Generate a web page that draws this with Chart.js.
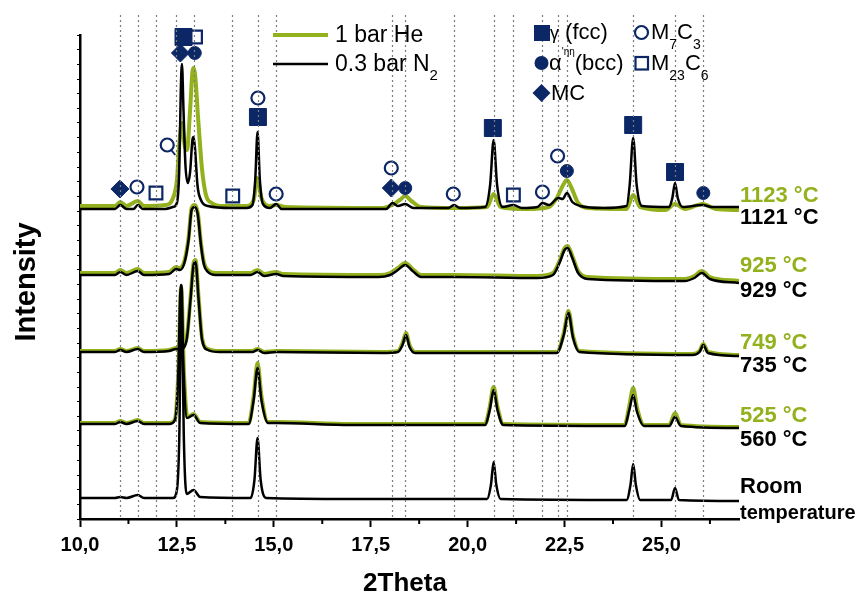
<!DOCTYPE html>
<html>
<head>
<meta charset="utf-8">
<script src="https://cdn.jsdelivr.net/npm/chart.js@4/dist/chart.umd.min.js"></script>
<style>
  html, body { margin: 0; padding: 0; background: #fff; }
</style>
</head>
<body>
<canvas id="xrd" width="861" height="598"></canvas>
<script>
const GREEN = '#93b11d';
const NAVY = '#0c2766';
const FONT = '"Liberation Sans", Arial, sans-serif';

// reference reflections (dotted lines), 2theta
const refLines = [11.04, 11.49, 11.97, 12.48, 12.93, 13.92, 14.58, 15.06, 18.06, 18.39,
  19.65, 20.67, 21.18, 21.93, 22.34, 22.56, 24.27, 25.35, 26.06];
const majorTicks = [10, 12.5, 15, 17.5, 20, 22.5, 25];
const minorTicks = [11.25, 13.75, 16.25, 18.75, 21.25, 23.75, 26.25];

// patterns, [2theta, intensity incl. stacking offset]
const he1123 = [[10.0,313],[10.9,313],[11.04,317],[11.2,313],[11.49,318],[11.65,313],[12.2,314],
  [12.4,321],[12.5,339],[12.57,379],[12.63,396],[12.7,374],[12.76,369],[12.84,409],[12.9,447],
  [12.93,451],[12.97,444],[13.05,399],[13.15,349],[13.25,324],[13.4,316],[13.7,313],[14.3,313],
  [14.48,319],[14.58,341],[14.68,321],[14.9,313],[15.06,314],[15.3,312],[17.8,311],[18.1,315],
  [18.25,319],[18.39,323],[18.55,318],[18.8,312],[19.65,311],[20.5,312],[20.67,325],[20.85,312],
  [21.5,310],[22.1,312],[22.3,321],[22.45,333],[22.56,339],[22.68,331],[22.85,316],[23.1,311],
  [24.1,310],[24.27,324],[24.45,312],[25.1,309],[25.35,315],[25.6,310],[26.06,315],[26.4,310],[27.0,309]];
const n2_1121 = [[10.0,310],[10.9,310],[11.04,314],[11.2,310],[11.38,310],[11.49,314],[11.62,310],
  [12.2,310],[12.4,312],[12.5,316],[12.56,349],[12.6,429],[12.63,455],[12.67,409],[12.72,354],
  [12.78,336],[12.84,347],[12.9,379],[12.93,382],[12.97,369],[13.03,334],[13.12,319],[13.3,313],
  [13.9,311],[14.3,311],[14.45,314],[14.52,339],[14.58,387],[14.64,339],[14.72,315],[14.9,311],
  [15.06,315],[15.2,310],[16.5,310],[17.9,310],[18.06,316],[18.2,313],[18.39,315],[18.6,311],
  [19.5,311],[19.65,314],[19.8,311],[20.45,312],[20.58,334],[20.67,379],[20.76,334],[20.9,312],
  [21.18,314],[21.4,311],[21.8,312],[21.93,316],[22.1,314],[22.34,321],[22.45,320],[22.56,326],
  [22.7,317],[22.9,313],[23.5,311],[24.1,313],[24.18,334],[24.27,381],[24.36,334],[24.5,313],
  [25.2,312],[25.28,321],[25.35,336],[25.42,321],[25.55,312],[26.06,314],[26.3,312],[27.0,312]];

const he925 = [[10.0,246],[10.9,246],[11.04,249],[11.2,246],[11.49,250],[11.65,246],[12.3,247],
  [12.48,252],[12.58,251],[12.7,259],[12.8,281],[12.88,311],[12.96,314],[13.04,306],[13.12,276],
  [13.2,256],[13.3,249],[13.5,246],[14.4,246],[14.58,249],[14.75,245],[15.06,247],[15.25,245],
  [17.7,244],[18.0,246],[18.2,251],[18.39,256],[18.58,250],[18.8,244],[19.65,244],[21.8,243],
  [22.2,246],[22.38,259],[22.5,271],[22.58,273],[22.7,263],[22.85,248],[23.1,242],[25.6,240],
  [25.85,243],[26.04,248],[26.25,242],[27.0,238]];
const n2_929 = [[10.0,244],[10.9,244],[11.04,247],[11.2,244],[11.49,248],[11.65,244],[12.3,245],
  [12.48,250],[12.58,249],[12.7,257],[12.8,279],[12.88,309],[12.96,312],[13.04,304],[13.12,274],
  [13.2,254],[13.3,247],[13.5,244],[14.4,244],[14.58,247],[14.75,243],[15.06,245],[15.25,243],
  [17.7,242],[18.0,244],[18.2,249],[18.39,254],[18.58,248],[18.8,242],[19.65,242],[21.8,241],
  [22.2,244],[22.38,257],[22.5,269],[22.58,271],[22.7,261],[22.85,246],[23.1,240],[25.6,238],
  [25.85,241],[26.04,246],[26.25,240],[27.0,236]];

const he749 = [[10.0,168],[10.9,168],[11.04,170],[11.2,168],[11.49,171],[11.65,168],[12.3,169],
  [12.48,171],[12.6,171],[12.75,181],[12.85,221],[12.93,256],[12.98,259],[13.06,221],[13.15,181],
  [13.3,170],[13.6,168],[14.45,168],[14.58,170],[14.75,167],[15.06,168],[17.8,167],[18.2,168],
  [18.32,176],[18.41,186],[18.5,174],[18.65,167],[20.67,167],[22.3,167],[22.48,186],[22.6,208],
  [22.72,183],[22.88,168],[25.8,165],[25.98,168],[26.08,175],[26.2,167],[27.0,164]];
const n2_735 = [[10.0,167],[10.9,167],[11.04,169],[11.2,167],[11.49,170],[11.65,167],[12.3,168],
  [12.48,170],[12.6,170],[12.75,179],[12.85,219],[12.93,254],[12.98,257],[13.06,219],[13.15,179],
  [13.3,169],[13.6,167],[14.45,167],[14.58,169],[14.75,166],[15.06,167],[17.8,166],[18.2,167],
  [18.32,174],[18.41,184],[18.5,172],[18.65,166],[20.67,166],[22.3,166],[22.48,184],[22.6,206],
  [22.72,181],[22.88,167],[25.8,164],[25.98,167],[26.08,174],[26.2,166],[27.0,163]];

const he525 = [[10.0,96],[10.9,96],[11.04,98],[11.2,96],[11.49,99],[11.65,96],[12.3,96],
  [12.45,100],[12.53,140],[12.61,232],[12.68,148],[12.77,102],[12.93,105],[13.1,97],[14.35,96],
  [14.48,123],[14.58,156],[14.68,123],[14.85,97],[15.06,97],[17.0,95],[20.45,95],[20.57,112],
  [20.67,132],[20.77,112],[20.92,95],[24.05,94],[24.17,113],[24.27,131],[24.37,111],[24.55,94],
  [25.2,94],[25.35,106],[25.5,94],[27.0,92]];
const n2_560 = [[10.0,95],[10.9,95],[11.04,97],[11.2,95],[11.49,98],[11.65,95],[12.3,95],
  [12.45,99],[12.53,139],[12.6,234],[12.67,149],[12.76,101],[12.93,104],[13.1,96],[14.35,95],
  [14.48,119],[14.58,151],[14.68,119],[14.85,96],[15.06,96],[17.0,94],[20.45,94],[20.57,109],
  [20.67,129],[20.77,109],[20.92,94],[24.05,93],[24.17,109],[24.27,124],[24.37,107],[24.55,93],
  [25.2,93],[25.35,102],[25.5,93],[27.0,91]];

const roomTemp = [[10.0,21],[10.9,21],[11.04,22],[11.2,21],[11.49,24],[11.65,21],[12.4,21],
  [12.5,29],[12.56,79],[12.62,234],[12.68,79],[12.75,25],[12.93,29],[13.1,22],[14.4,21],
  [14.5,39],[14.58,81],[14.66,39],[14.8,21],[17.0,20],[20.5,20],[20.6,34],[20.67,57],[20.74,34],
  [20.85,20],[24.1,19],[24.2,34],[24.27,55],[24.34,34],[24.45,19],[25.25,19],[25.35,31],
  [25.45,19],[27.0,18]];

// phase markers
const gammaFcc = [[12.67,482],[14.59,402],[20.65,391],[24.27,394],[25.35,347]];
const alphaBcc = [[12.96,466],[18.39,331],[22.56,348],[26.08,326]];
const mcCarbide = [[12.59,466],[11.03,330],[18.03,331]];
const m7c3 = [[12.93,502],[12.25,374],[11.47,332],[15.06,325],[14.59,421],[18.03,351],
  [19.63,325],[21.93,327],[22.32,363]];
const m23c6 = [[12.98,482],[11.96,326],[13.94,323],[21.18,324]];

const tempLabels = ['1123 °C', '1121 °C', '925 °C', '929 °C', '749 °C', '735 °C',
  '525 °C', '560 °C', 'Room', 'temperature'];

const xy = arr => arr.map(([x, y]) => ({x, y}));

function trace(data, color, width) {
  return {
    data: xy(data), borderColor: color, borderWidth: width, pointRadius: 0,
    cubicInterpolationMode: 'monotone', borderJoinStyle: 'round', fill: false,
    order: color === GREEN ? 3 : 2
  };
}

function markers(data, style, radius, open) {
  return {
    data: xy(data), showLine: false, pointStyle: style, pointRadius: radius,
    pointBackgroundColor: open ? '#fff' : NAVY, pointBorderColor: NAVY,
    pointBorderWidth: open ? 2.2 : 1, clip: false, order: 1
  };
}

function richText(ctx, x, y, parts) {
  for (const [t, size, dy] of parts) {
    ctx.font = size + 'px ' + FONT;
    ctx.fillText(t, x, y + (dy || 0));
    x += ctx.measureText(t).width;
  }
}

const decor = {
  id: 'decor',
  afterDatasetsDraw(chart) {
    const {ctx, chartArea, scales: {x, y}} = chart;
    ctx.save();

    // little tail on the M7C3 marker left of the main reflection
    const qx = x.getPixelForValue(m7c3[1][0]);
    const qy = y.getPixelForValue(m7c3[1][1]);
    ctx.strokeStyle = NAVY;
    ctx.lineWidth = 2;
    ctx.beginPath();
    ctx.moveTo(qx + 4, qy + 5);
    ctx.lineTo(qx + 8, qy + 10);
    ctx.stroke();

    ctx.strokeStyle = '#7d7d7d';
    ctx.lineWidth = 1.2;
    ctx.setLineDash([2, 3]);
    refLines.forEach(v => {
      const px = Math.round(x.getPixelForValue(v)) + 0.5;
      ctx.beginPath();
      ctx.moveTo(px, 15);
      ctx.lineTo(px, chartArea.bottom);
      ctx.stroke();
    });
    ctx.restore();
  },
  afterDraw(chart) {
    const {ctx, chartArea, scales: {x}} = chart;
    ctx.save();

    // minor ticks on the 2theta axis
    ctx.strokeStyle = '#000';
    ctx.lineWidth = 2;
    minorTicks.forEach(v => {
      const px = x.getPixelForValue(v);
      ctx.beginPath();
      ctx.moveTo(px, chartArea.bottom);
      ctx.lineTo(px, chartArea.bottom + 5);
      ctx.stroke();
    });

    // line legend
    ctx.lineCap = 'butt';
    ctx.strokeStyle = GREEN; ctx.lineWidth = 4;
    ctx.beginPath(); ctx.moveTo(273, 35); ctx.lineTo(328, 35); ctx.stroke();
    ctx.strokeStyle = '#000'; ctx.lineWidth = 2.5;
    ctx.beginPath(); ctx.moveTo(273, 64); ctx.lineTo(328, 64); ctx.stroke();
    ctx.fillStyle = '#000';
    ctx.textBaseline = 'middle';
    ctx.textAlign = 'left';
    richText(ctx, 335, 36, [['1 bar He', 23]]);
    richText(ctx, 335, 65, [['0.3 bar N', 23], ['2', 15, 11]]);

    // phase legend
    ctx.fillStyle = NAVY;
    ctx.fillRect(534, 25, 16, 16);
    ctx.beginPath(); ctx.arc(541.5, 63, 7, 0, Math.PI * 2); ctx.fill();
    ctx.beginPath();
    ctx.moveTo(541.5, 84); ctx.lineTo(550.5, 93); ctx.lineTo(541.5, 102); ctx.lineTo(532.5, 93);
    ctx.closePath(); ctx.fill();
    ctx.strokeStyle = NAVY; ctx.lineWidth = 2.2;
    ctx.beginPath(); ctx.arc(641.5, 32.5, 6.5, 0, Math.PI * 2); ctx.stroke();
    ctx.strokeRect(635.5, 57, 12.5, 12.5);

    ctx.fillStyle = '#000';
    richText(ctx, 550, 33, [['γ', 18, 1], [' (fcc)', 22]]);
    richText(ctx, 549, 64, [['α', 22], ['\'ηη', 10, -12], ['(bcc)', 22]]);
    richText(ctx, 551, 94, [['MC', 22]]);
    richText(ctx, 651, 33, [['M', 22], ['7', 14, 12], ['C', 22], ['3', 14, 12]]);
    richText(ctx, 651, 64, [['M', 22], ['23', 14, 12], ['C', 22], ['6', 14, 12]]);

    // temperature labels at the right end of each pattern
    const labelY = [196, 218, 266, 291, 343, 366, 416, 440, 487, 513];
    ctx.font = 'bold 22px ' + FONT;
    tempLabels.forEach((t, i) => {
      ctx.fillStyle = (i % 2 === 0 && i < 8) ? GREEN : '#000';
      if (i === 9) ctx.font = 'bold 20px ' + FONT;
      ctx.fillText(t, chartArea.right + 1, labelY[i]);
    });

    // axis titles
    ctx.fillStyle = '#000';
    ctx.textAlign = 'center';
    ctx.font = 'bold 26px ' + FONT;
    ctx.fillText('2Theta', 405, 584);
    ctx.translate(27, 282);
    ctx.rotate(-Math.PI / 2);
    ctx.font = 'bold 29px ' + FONT;
    ctx.fillText('Intensity', 0, 0);
    ctx.restore();
  }
};

new Chart(document.getElementById('xrd'), {
  type: 'line',
  data: {
    datasets: [
      markers(gammaFcc, 'rect', 12, false),
      markers(alphaBcc, 'circle', 6.5, false),
      markers(mcCarbide, 'rectRot', 9, false),
      markers(m7c3, 'circle', 6.5, true),
      markers(m23c6, 'rect', 9, true),
      trace(n2_1121, '#000', 2.5),
      trace(he1123, GREEN, 4),
      trace(n2_929, '#000', 2.5),
      trace(he925, GREEN, 4),
      trace(n2_735, '#000', 2.5),
      trace(he749, GREEN, 4),
      trace(n2_560, '#000', 2.5),
      trace(he525, GREEN, 4),
      trace(roomTemp, '#000', 2.5)
    ]
  },
  options: {
    responsive: false,
    animation: false,
    layout: { padding: { left: 0, right: 122, top: 35, bottom: 0 } },
    plugins: { legend: { display: false }, tooltip: { enabled: false } },
    scales: {
      x: {
        type: 'linear', min: 10, max: 27,
        afterBuildTicks: s => { s.ticks = majorTicks.map(v => ({value: v})); },
        afterFit: s => { s.height = 79; },
        border: { display: true, color: '#000', width: 2.5 },
        grid: { drawOnChartArea: false, drawTicks: true, tickLength: 8, tickWidth: 2, color: '#000' },
        ticks: {
          color: '#000', padding: 6,
          font: { family: FONT, size: 20, weight: 'bold' },
          callback: v => v.toFixed(1).replace('.', ',')
        }
      },
      y: {
        min: 0, max: 484,
        afterBuildTicks: s => { s.ticks = Array.from({length: 34}, (_, i) => ({value: i * 484 / 33})); },
        afterFit: s => { s.width = 80; },
        border: { display: true, color: '#000', width: 2.5 },
        grid: { drawOnChartArea: false, drawTicks: true, tickLength: 3, tickWidth: 1.2, color: '#000' },
        ticks: { display: false }
      }
    }
  },
  plugins: [decor]
});
</script>
</body>
</html>
